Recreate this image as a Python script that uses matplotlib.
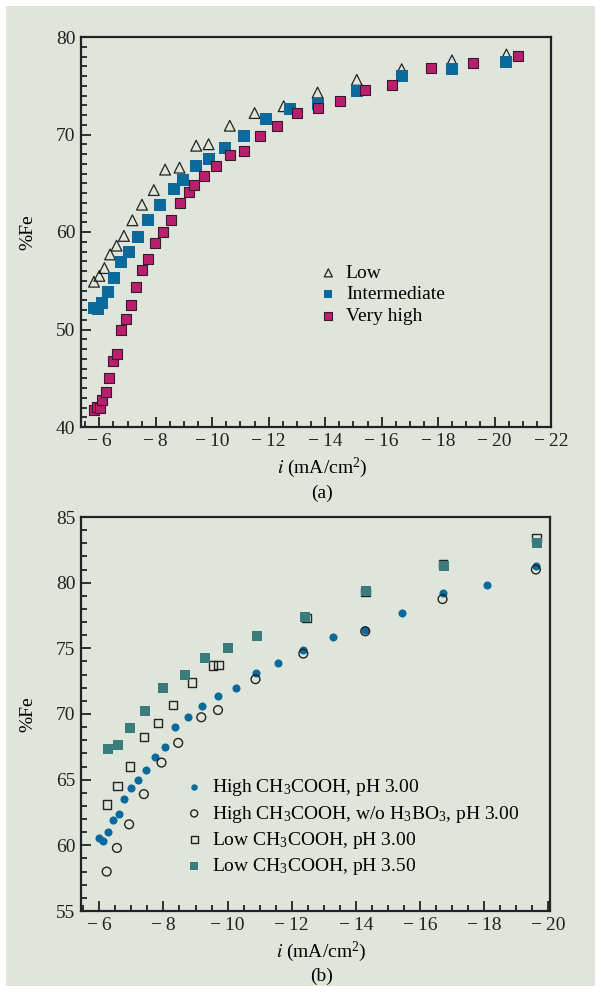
import matplotlib
matplotlib.use('Agg')
import matplotlib.pyplot as plt
from matplotlib.patches import Rectangle
from matplotlib.ticker import MultipleLocator, FuncFormatter

# panel (a): current density vs %Fe for three additive levels
low_x = [-5.81, -6.0, -6.18, -6.38, -6.61, -6.87, -7.17, -7.51, -7.93, -8.33, -8.84,
         -9.43, -9.87, -10.62, -11.5, -12.53, -13.73, -15.12, -16.71, -18.49, -20.42]
low_y = [54.9, 55.5, 56.3, 57.7, 58.6, 59.6, 61.2, 62.8, 64.3, 66.4, 66.6,
         68.85, 69.0, 70.9, 72.2, 72.9, 74.3, 75.6, 76.7, 77.6, 78.2]

mid_x = [-5.81, -5.96, -6.11, -6.32, -6.53, -6.78, -7.06, -7.38, -7.73, -8.16, -8.66,
         -8.98, -9.43, -9.89, -10.45, -11.12, -11.9, -12.74, -13.73, -15.12, -16.71,
         -18.51, -20.42]
mid_y = [52.2, 52.1, 52.75, 53.8, 55.25, 56.9, 58.0, 59.45, 61.2, 62.8, 64.4,
         65.3, 66.8, 67.5, 68.6, 69.8, 71.55, 72.6, 73.1, 74.5, 76.0,
         76.7, 77.4]

vhigh_x = [-5.81, -5.91, -6.02, -6.11, -6.23, -6.34, -6.47, -6.64, -6.77, -6.94, -7.11,
           -7.30, -7.51, -7.73, -7.98, -8.24, -8.54, -8.84, -9.18, -9.34, -9.71,
           -10.15, -10.62, -11.12, -11.69, -12.30, -12.99, -13.73, -14.53, -15.40,
           -16.37, -17.76, -19.24, -20.83]
vhigh_y = [41.7, 42.1, 41.9, 42.8, 43.6, 45.05, 46.8, 47.45, 49.9, 51.05, 52.5,
           54.4, 56.1, 57.2, 58.85, 60.0, 61.2, 63.0, 64.1, 64.85, 65.7,
           66.8, 67.9, 68.3, 69.8, 70.9, 72.2, 72.7, 73.4, 74.6,
           75.05, 76.85, 77.3, 78.1]

# panel (b)
hi_x = [-6.0, -6.12, -6.28, -6.42, -6.6, -6.78, -6.98, -7.21, -7.45, -7.73, -8.04,
        -8.37, -8.75, -9.19, -9.70, -10.25, -10.88, -11.57, -12.36, -13.27, -14.29,
        -15.43, -16.70, -18.10, -19.61]
hi_y = [60.58, 60.33, 61.0, 61.9, 62.4, 63.55, 64.4, 65.0, 65.7, 66.75, 67.5,
        69.0, 69.75, 70.6, 71.35, 72.0, 73.15, 73.9, 74.9, 75.85, 76.4,
        77.7, 79.2, 79.8, 81.3]

hinb_x = [-6.23, -6.55, -6.93, -7.39, -7.94, -8.46, -9.18, -9.70, -10.87, -12.36,
          -14.29, -16.70, -19.61]
hinb_y = [58.0, 59.8, 61.6, 63.9, 66.3, 67.8, 69.75, 70.3, 72.65, 74.6,
          76.3, 78.75, 81.0]

lo3_x = [-6.25, -6.57, -6.95, -7.40, -7.82, -8.30, -8.89, -9.55, -9.72, -12.46,
         -14.30, -16.71, -19.63]
lo3_y = [63.1, 64.5, 66.0, 68.25, 69.3, 70.7, 72.4, 73.7, 73.75, 77.3,
         79.3, 81.4, 83.4]

lo35_x = [-6.27, -6.57, -6.96, -7.42, -7.98, -8.67, -9.31, -10.0, -10.91, -12.41,
          -14.31, -16.74, -19.64]
lo35_y = [67.3, 67.65, 68.9, 70.2, 71.95, 73.0, 74.25, 75.0, 75.97, 77.37,
          79.4, 81.3, 83.0]

plt.rcParams['font.family'] = 'Liberation Serif'
plt.rcParams['mathtext.fontset'] = 'stix'
plt.rcParams['mathtext.default'] = 'regular'
plt.rcParams['font.size'] = 14

bg = '#e0e5dc'
blue = '#0a6a9c'
magenta = '#b8206e'
teal = '#3a7c7c'


def neg_fmt(v, pos):
    if v < 0:
        return '\u2212\u2009%d' % abs(v)
    return '%d' % v


fig = plt.figure(figsize=(6.01, 9.92), dpi=100)
fig.patch.set_facecolor('white')
fig.patches.append(Rectangle((6 / 601, 6 / 992), 589 / 601, 980 / 992,
                             transform=fig.transFigure, facecolor=bg,
                             edgecolor='none', zorder=-10))

ax1 = fig.add_axes([81 / 601, 1 - 427 / 992, 470 / 601, 390 / 992])
ax2 = fig.add_axes([81 / 601, 1 - 911 / 992, 469 / 601, 394 / 992])

for ax in (ax1, ax2):
    ax.set_facecolor(bg)
    for s in ax.spines.values():
        s.set_linewidth(1.6)
        s.set_color('#222222')
    ax.tick_params(direction='in', which='both', top=False, right=False,
                   width=1.3, colors='#222222', labelsize=14)
    ax.tick_params(which='major', length=7, pad=4)
    ax.tick_params(which='minor', length=4)
    ax.xaxis.set_major_locator(MultipleLocator(2))
    ax.xaxis.set_minor_locator(MultipleLocator(0.5))
    ax.xaxis.set_major_formatter(FuncFormatter(neg_fmt))
    ax.set_ylabel('%Fe', fontsize=14)
    ax.set_xlabel(r'$\mathit{i}$ (mA/cm$^2$)', fontsize=14)
    ax.yaxis.set_label_coords(-0.095, 0.5)

ax1.xaxis.set_label_coords(0.513, -0.074)
ax2.xaxis.set_label_coords(0.513, -0.073)

# (a)
ax1.scatter(low_x, low_y, marker='^', s=60, facecolors='none', edgecolors='#222222',
            linewidths=0.9, label='Low', zorder=3)
ax1.scatter(mid_x, mid_y, marker='s', s=70, color=blue, linewidths=0,
            label='Intermediate', zorder=4)
ax1.scatter(vhigh_x, vhigh_y, marker='s', s=55, facecolors=magenta, edgecolors='#3a1a2a',
            linewidths=0.8, label='Very high', zorder=5)
ax1.set_xlim(-5.35, -22)
ax1.set_ylim(40, 80)
ax1.yaxis.set_major_locator(MultipleLocator(10))
ax1.yaxis.set_minor_locator(MultipleLocator(1))
ax1.legend(loc='upper left', bbox_to_anchor=(0.489, 0.442), frameon=False,
           handlelength=0.8, handletextpad=0.5, labelspacing=0.2, borderpad=0,
           fontsize=14, markerscale=0.75)
fig.text(322 / 601, 1 - 493 / 992, '(a)', ha='center', va='center', fontsize=14)

# (b)
ax2.scatter(hi_x, hi_y, marker='o', s=34, color=blue, linewidths=0,
            label='High CH$_3$COOH, pH 3.00', zorder=3)
ax2.scatter(hinb_x, hinb_y, marker='o', s=40, facecolors='none', edgecolors='#222222',
            linewidths=1.0, label='High CH$_3$COOH, w/o H$_3$BO$_3$, pH 3.00', zorder=4)
ax2.scatter(lo3_x, lo3_y, marker='s', s=36, facecolors='none', edgecolors='#222222',
            linewidths=1.0, label='Low CH$_3$COOH, pH 3.00', zorder=3)
ax2.scatter(lo35_x, lo35_y, marker='s', s=48, color=teal, linewidths=0,
            label='Low CH$_3$COOH, pH 3.50', zorder=5)
ax2.set_xlim(-5.43, -20.05)
ax2.set_ylim(55, 85)
ax2.yaxis.set_major_locator(MultipleLocator(5))
ax2.yaxis.set_minor_locator(MultipleLocator(1))
ax2.legend(loc='upper left', bbox_to_anchor=(0.204, 0.364), frameon=False,
           handlelength=0.8, handletextpad=0.5, labelspacing=0.27, borderpad=0,
           fontsize=14, markerscale=0.8)
fig.text(322 / 601, 1 - 976 / 992, '(b)', ha='center', va='center', fontsize=14)

fig.savefig('out.png', dpi=100, facecolor='white')
